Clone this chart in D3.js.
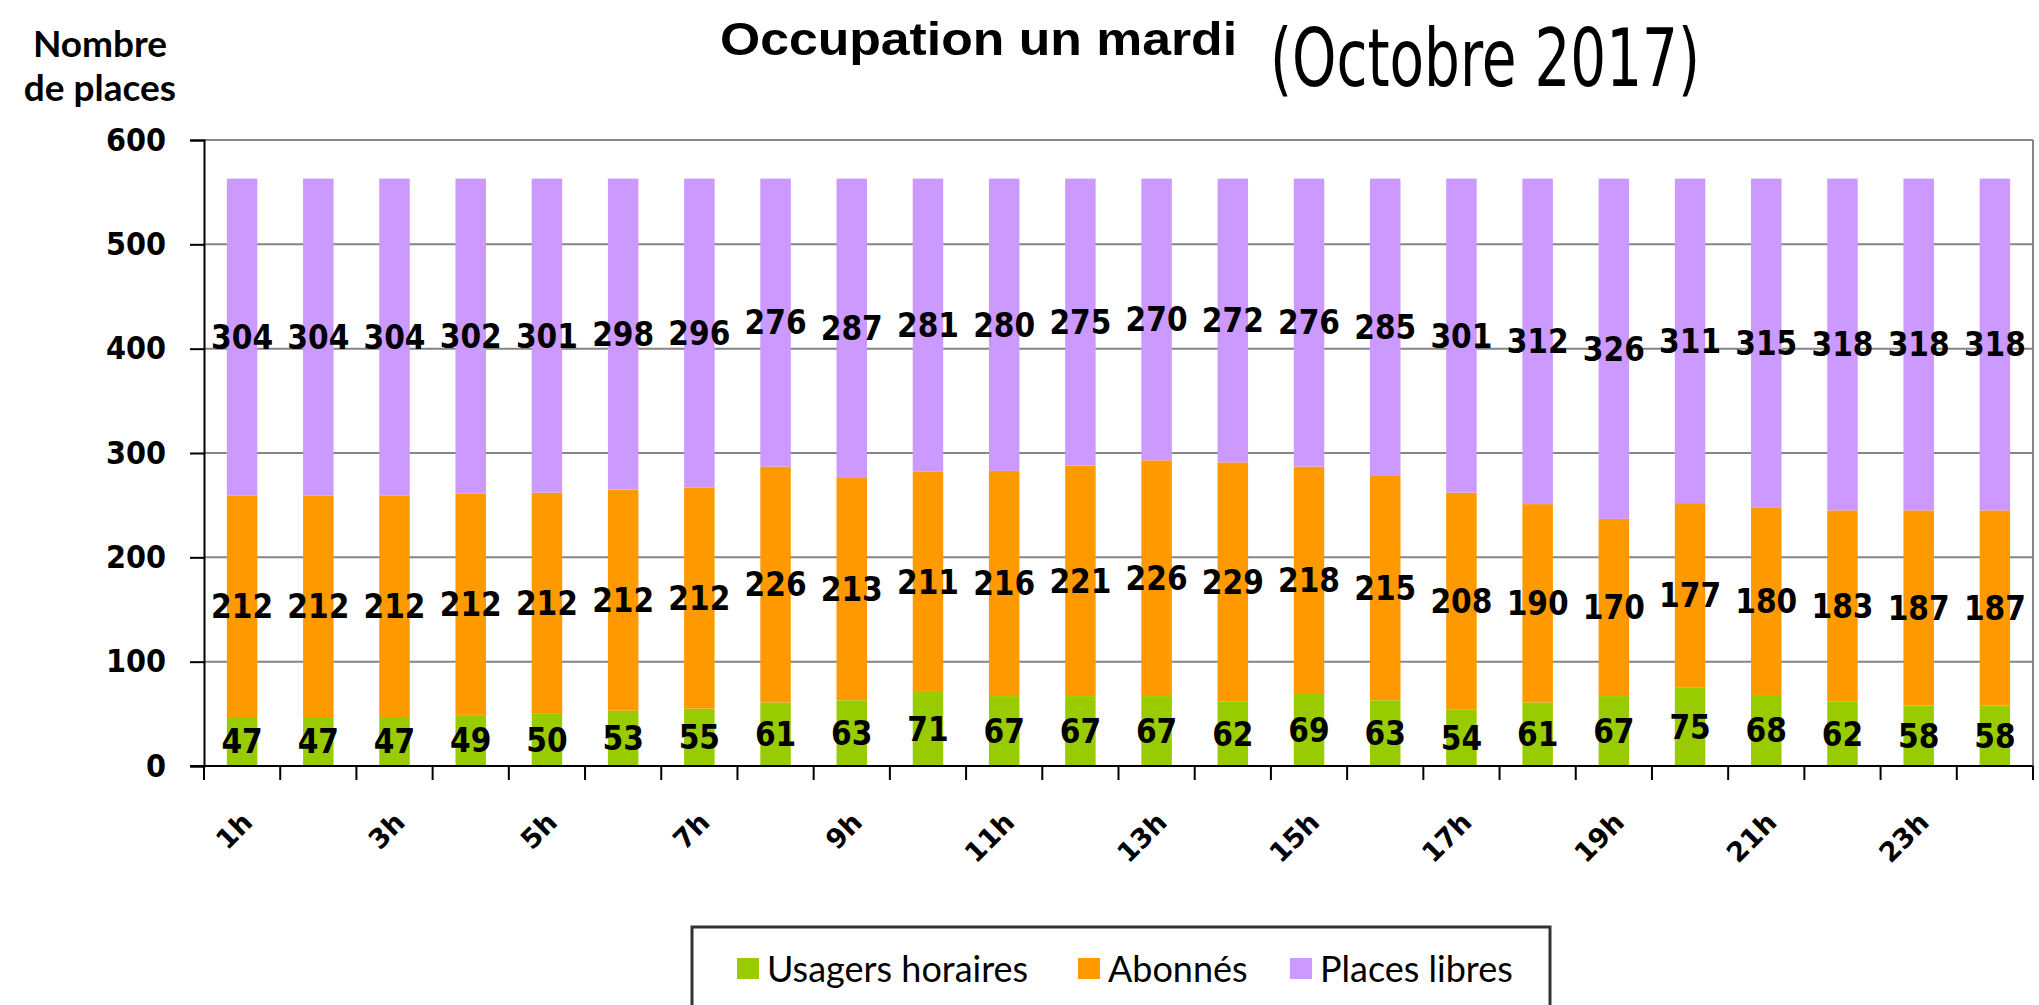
<!DOCTYPE html>
<html lang="fr">
<head>
  <meta charset="UTF-8">
  <title>Occupation un mardi</title>
  <script src="https://d3js.org/d3.v7.min.js"></script>
  <style>
    body { margin: 0; background: #fff; }
    .val { font-family: "DejaVu Sans Condensed", "DejaVu Sans", sans-serif; font-weight: bold; font-size: 33px; }
    .ytick { font-family: "DejaVu Sans Condensed", "DejaVu Sans", sans-serif; font-weight: bold; font-size: 32px; }
    .xtick { font-family: "DejaVu Sans", sans-serif; font-weight: bold; font-size: 27px; }
    .leg { font-family: Lato, sans-serif; font-size: 36px; }
  </style>
</head>
<body>
<div id="chart"></div>
<script>

// hours on the x axis
var hours = ["1h","2h","3h","4h","5h","6h","7h","8h","9h","10h","11h","12h",
             "13h","14h","15h","16h","17h","18h","19h","20h","21h","22h","23h","24h"];

// values
var usagers = [47,47,47,49,50,53,55,61,63,71,67,67,67,62,69,63,54,61,67,75,68,62,58,58];
var abonnes = [212,212,212,212,212,212,212,226,213,211,216,221,226,229,218,215,208,190,170,177,180,183,187,187];
var libres  = [304,304,304,302,301,298,296,276,287,281,280,275,270,272,276,285,301,312,326,311,315,318,318,318];

var series = ["Usagers horaires", "Abonnés", "Places libres"];
var colors = ["#99cc00", "#ff9900", "#cc99ff"];
var yTicks = [0,100,200,300,400,500,600];

var W = 2039, H = 1005;
var plotLeft = 204, plotRight = 2033, plotTop = 140, plotBottom = 766;

var svg = d3.select("#chart").append("svg")
  .attr("width", W).attr("height", H);

var x = d3.scaleBand()
  .domain(hours)
  .range([plotLeft, plotRight])
  .paddingInner(0.6)
  .paddingOuter(0.3);

var y = d3.scaleLinear()
  .domain([0, 600])
  .range([plotBottom, plotTop]);

// grid lines
svg.append("g").selectAll("line")
  .data(yTicks.filter(function(d) { return d > 0; }))
  .enter().append("line")
  .attr("x1", plotLeft).attr("x2", plotRight)
  .attr("y1", function(d) { return y(d); })
  .attr("y2", function(d) { return y(d); })
  .attr("stroke", "#858585")
  .attr("stroke-width", 2);

// right border of plot area
svg.append("line")
  .attr("x1", plotRight).attr("x2", plotRight)
  .attr("y1", y(600)).attr("y2", y(0))
  .attr("stroke", "#858585").attr("stroke-width", 2);

// stack the data
var rows = hours.map(function(h, i) {
  return {hour: h, a: usagers[i], b: abonnes[i], c: libres[i]};
});
var stack = d3.stack().keys(["a", "b", "c"])(rows);

stack.forEach(function(layer, k) {
  svg.append("g").selectAll("rect")
    .data(layer)
    .enter().append("rect")
    .attr("x", function(d) { return x(d.data.hour); })
    .attr("width", x.bandwidth())
    .attr("y", function(d) { return y(d[1]); })
    .attr("height", function(d) { return y(d[0]) - y(d[1]); })
    .attr("fill", colors[k]);
});

// value labels
stack.forEach(function(layer, k) {
  svg.append("g").selectAll("text")
    .data(layer)
    .enter().append("text")
    .attr("class", "val")
    .attr("x", function(d) { return x(d.data.hour) + x.bandwidth() / 2; })
    .attr("y", function(d) { return y((d[0] + d[1]) / 2); })
    .attr("dy", "0.36em")
    .attr("text-anchor", "middle")
    .text(function(d) { return d[1] - d[0]; });
});

// y axis
var yAxis = svg.append("g")
  .attr("transform", "translate(" + plotLeft + ",0)")
  .call(d3.axisLeft(y).tickValues(yTicks).tickSize(14).tickPadding(24));
yAxis.select(".domain").attr("stroke", "#000").attr("stroke-width", 2);
yAxis.selectAll(".tick line").attr("stroke", "#000").attr("stroke-width", 2);
yAxis.selectAll(".tick text").attr("class", "ytick").attr("fill", "#000");
yAxis.attr("font-family", null).attr("font-size", null);

// x axis line and ticks between categories
svg.append("line")
  .attr("x1", plotLeft - 14).attr("x2", plotRight)
  .attr("y1", plotBottom).attr("y2", plotBottom)
  .attr("stroke", "#000").attr("stroke-width", 2);

var step = x.step();
svg.append("g").selectAll("line")
  .data(d3.range(hours.length + 1))
  .enter().append("line")
  .attr("x1", function(i) { return plotLeft + i * step; })
  .attr("x2", function(i) { return plotLeft + i * step; })
  .attr("y1", plotBottom).attr("y2", plotBottom + 14)
  .attr("stroke", "#000").attr("stroke-width", 2);

// x labels, every other hour
svg.append("g").selectAll("text")
  .data(hours.filter(function(d, i) { return i % 2 === 0; }))
  .enter().append("text")
  .attr("class", "xtick")
  .attr("text-anchor", "end")
  .attr("transform", function(d) {
    return "translate(" + (x(d) + x.bandwidth() / 2 + 12) + "," + 824 + ") rotate(-45)";
  })
  .text(function(d) { return d; });

// y title
svg.append("text")
  .attr("x", 100).attr("y", 57)
  .attr("text-anchor", "middle")
  .attr("font-family", "Lato, sans-serif").attr("font-weight", "bold").attr("font-size", 37)
  .text("Nombre");
svg.append("text")
  .attr("x", 100).attr("y", 101)
  .attr("text-anchor", "middle")
  .attr("font-family", "Lato, sans-serif").attr("font-weight", "bold").attr("font-size", 37)
  .text("de places");

// titles
svg.append("text")
  .attr("x", 720).attr("y", 55)
  .attr("font-family", "Liberation Sans, Arial, sans-serif").attr("font-weight", "bold")
  .attr("font-size", 46)
  .attr("textLength", 517).attr("lengthAdjust", "spacingAndGlyphs")
  .text("Occupation un mardi");

svg.append("text")
  .attr("x", 1270).attr("y", 86)
  .attr("font-family", "Liberation Sans Narrow, DejaVu Sans Condensed, sans-serif")
  .attr("font-size", 80)
  .attr("textLength", 430).attr("lengthAdjust", "spacingAndGlyphs")
  .text("(Octobre 2017)");

// legend
svg.append("rect")
  .attr("x", 692).attr("y", 927)
  .attr("width", 1550 - 692).attr("height", 120)
  .attr("fill", "none").attr("stroke", "#333").attr("stroke-width", 3);

var legX = [737, 1078, 1290];
var leg = svg.append("g").selectAll("g")
  .data(series)
  .enter().append("g")
  .attr("transform", function(d, i) { return "translate(" + legX[i] + ",958)"; });
leg.append("rect")
  .attr("width", 22).attr("height", 21)
  .attr("fill", function(d, i) { return colors[i]; });
leg.append("text")
  .attr("class", "leg")
  .attr("x", 30).attr("y", 11)
  .attr("dy", "0.35em")
  .text(function(d) { return d; });

</script>
</body>
</html>
